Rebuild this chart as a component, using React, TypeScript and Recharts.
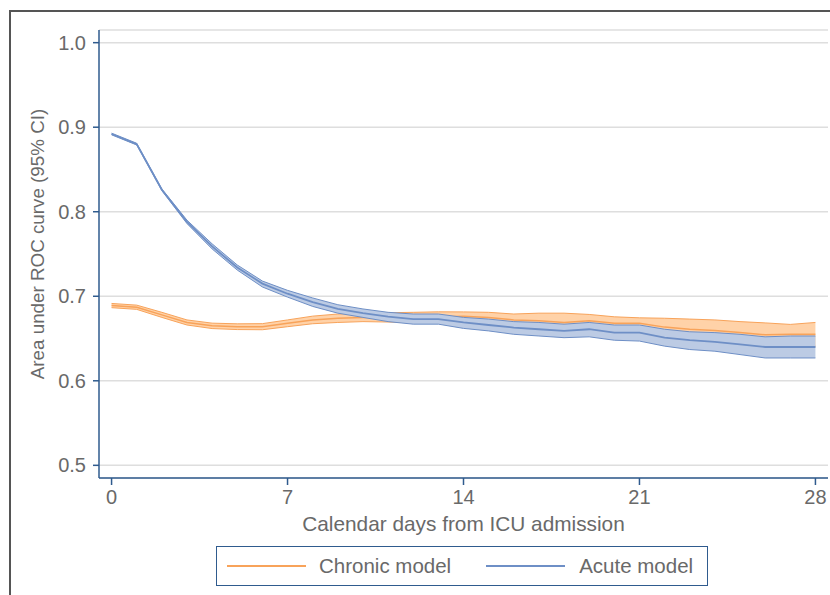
import { ComposedChart, Area, XAxis, YAxis, CartesianGrid } from 'recharts';

const days = [0, 1, 2, 3, 4, 5, 6, 7, 8, 9, 10, 11, 12, 13, 14, 15, 16, 17, 18, 19, 20, 21, 22, 23, 24, 25, 26, 27, 28];

const chronicMean = [0.689, 0.687, 0.678, 0.669, 0.665, 0.664, 0.664, 0.668, 0.672, 0.674, 0.675, 0.675, 0.675, 0.6756, 0.6765, 0.675, 0.672, 0.671, 0.669, 0.671, 0.668, 0.668, 0.6635, 0.661, 0.6595, 0.657, 0.6545, 0.655, 0.655];
const chronicLower = [0.6865, 0.6845, 0.675, 0.666, 0.6618, 0.6606, 0.6604, 0.664, 0.6675, 0.669, 0.670, 0.6695, 0.669, 0.6696, 0.6715, 0.669, 0.665, 0.662, 0.658, 0.6635, 0.6603, 0.6615, 0.653, 0.649, 0.647, 0.644, 0.6405, 0.6433, 0.641];
const chronicUpper = [0.6915, 0.6895, 0.681, 0.672, 0.6682, 0.6674, 0.6676, 0.672, 0.6765, 0.679, 0.680, 0.6805, 0.681, 0.6816, 0.6815, 0.681, 0.679, 0.680, 0.680, 0.6785, 0.6757, 0.6745, 0.674, 0.673, 0.672, 0.670, 0.6685, 0.6667, 0.669];

const acuteMean = [0.892, 0.880, 0.826, 0.788, 0.759, 0.734, 0.715, 0.703, 0.693, 0.685, 0.680, 0.676, 0.673, 0.673, 0.669, 0.666, 0.663, 0.661, 0.659, 0.661, 0.657, 0.657, 0.651, 0.648, 0.646, 0.643, 0.640, 0.640, 0.640];
const acuteLower = [0.891, 0.879, 0.825, 0.786, 0.756, 0.731, 0.711, 0.699, 0.688, 0.680, 0.675, 0.670, 0.667, 0.667, 0.662, 0.659, 0.655, 0.653, 0.651, 0.652, 0.648, 0.647, 0.641, 0.637, 0.635, 0.631, 0.627, 0.627, 0.627];
const acuteUpper = [0.893, 0.881, 0.827, 0.790, 0.762, 0.737, 0.718, 0.707, 0.698, 0.690, 0.685, 0.681, 0.679, 0.679, 0.675, 0.673, 0.670, 0.669, 0.667, 0.669, 0.666, 0.666, 0.661, 0.658, 0.657, 0.655, 0.652, 0.653, 0.653];

const xTicks = [0, 7, 14, 21, 28];
const yTicks = [0.5, 0.6, 0.7, 0.8, 0.9, 1.0];

const ORANGE = '#f8a35a';
const ORANGE_FILL = '#ffd2a8';
const BLUE = '#6e8fc6';
const BLUE_FILL = '#bccbe4';
const AXIS = '#2f5b8e';
const TEXT = '#696969';
const FONT = '"Liberation Sans", Arial, sans-serif';

const data = days.map((day, i) => ({
  day,
  cMean: chronicMean[i],
  cLow: chronicLower[i],
  cHigh: chronicUpper[i],
  cBand: [chronicLower[i], chronicUpper[i]],
  aMean: acuteMean[i],
  aLow: acuteLower[i],
  aHigh: acuteUpper[i],
  aBand: [acuteLower[i], acuteUpper[i]],
}));

const YLabel = () => (
  <text
    x={37}
    y={244}
    transform="rotate(-90 37 244)"
    textAnchor="middle"
    dominantBaseline="central"
    fill={TEXT}
    fontSize={18.8}
    fontFamily={FONT}
  >
    Area under ROC curve (95% CI)
  </text>
);

const ChartLegend = () => (
  <div
    style={{
      position: 'absolute',
      left: 216,
      top: 546,
      width: 490,
      height: 38,
      border: `1.5px solid ${AXIS}`,
      display: 'flex',
      alignItems: 'center',
      fontFamily: FONT,
      fontSize: 20.5,
      color: TEXT,
    }}
  >
    <div style={{ width: 79, height: 2, background: ORANGE, marginLeft: 10 }} />
    <span style={{ marginLeft: 13 }}>Chronic model</span>
    <div style={{ width: 79, height: 2, background: BLUE, marginLeft: 35 }} />
    <span style={{ marginLeft: 14 }}>Acute model</span>
  </div>
);

// lines are drawn as stroke-only areas so they stay in the same layer as the bands
const edge = (key: string, color: string, width: number) => (
  <Area
    key={key}
    type="linear"
    dataKey={key}
    fill="none"
    stroke={color}
    strokeWidth={width}
    dot={false}
    activeDot={false}
    isAnimationActive={false}
  />
);

export default function App() {
  return (
    <div style={{ position: 'absolute', left: 0, top: 0, width: 830, height: 595, overflow: 'hidden', background: '#fff' }}>
      <div
        style={{
          position: 'absolute',
          left: 9,
          top: 10,
          width: 900,
          height: 700,
          border: '2px solid #555',
        }}
      />
      <div style={{ position: 'absolute', left: 0, top: 0 }}>
        <ComposedChart width={830} height={595} data={data} margin={{ top: 30, right: 2, bottom: 61, left: 0 }}>
          <CartesianGrid vertical={false} stroke="#dedede" strokeWidth={1.5} />
          <XAxis
            type="number"
            dataKey="day"
            domain={[-0.5, 28.5]}
            ticks={xTicks}
            allowDataOverflow
            height={56}
            stroke={AXIS}
            strokeWidth={1.5}
            tickSize={7}
            tickMargin={5}
            tick={{ fill: TEXT, fontSize: 20, fontFamily: FONT }}
            label={{ value: 'Calendar days from ICU admission', position: 'insideBottom', offset: 3, fill: TEXT, fontSize: 20.8, fontFamily: FONT }}
          />
          <YAxis
            type="number"
            domain={[0.485, 1.015]}
            ticks={yTicks}
            allowDataOverflow
            width={99}
            stroke={AXIS}
            strokeWidth={1.5}
            tickSize={6}
            tickMargin={7}
            tickFormatter={(v: number) => v.toFixed(1)}
            tick={{ fill: TEXT, fontSize: 20, fontFamily: FONT }}
            label={YLabel}
          />
          <Area type="linear" dataKey="cBand" fill={ORANGE_FILL} fillOpacity={1} stroke="none" activeDot={false} isAnimationActive={false} />
          {edge('cLow', ORANGE, 1)}
          {edge('cHigh', ORANGE, 1)}
          {edge('cMean', ORANGE, 1.5)}
          <Area type="linear" dataKey="aBand" fill={BLUE_FILL} fillOpacity={1} stroke="none" activeDot={false} isAnimationActive={false} />
          {edge('aLow', BLUE, 1)}
          {edge('aHigh', BLUE, 1)}
          {edge('aMean', BLUE, 1.8)}
        </ComposedChart>
      </div>
      <ChartLegend />
    </div>
  );
}
